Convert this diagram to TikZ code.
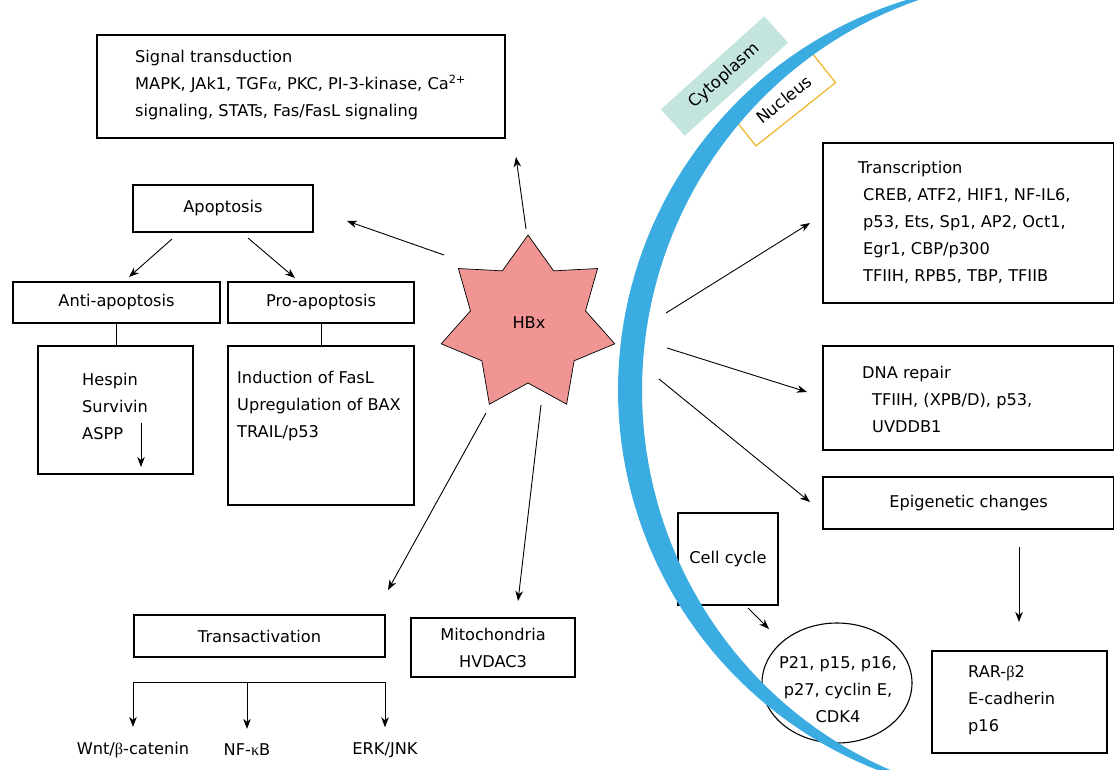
\RequirePackage{fix-cm}
\documentclass[tikz,border=0pt]{standalone}
\usepackage{fontspec}
\setmainfont{DejaVu Sans}
\newfontfamily\grk{Liberation Serif}
\usetikzlibrary{shapes.geometric,arrows.meta,positioning}
\definecolor{membrane}{RGB}{58,172,226}
\definecolor{cytofill}{RGB}{196,228,222}
\definecolor{nucline}{RGB}{240,180,40}
\definecolor{hbxfill}{RGB}{240,148,148}

\tikzset{
  box/.style={draw, line width=1.1pt, inner sep=0pt},
  lines/.style={align=left, inner sep=0pt},
  arr/.style={-{Stealth[length=10pt,width=7.5pt,inset=3pt]}, line width=0.9pt},
}

\begin{document}
\begin{tikzpicture}[x=1pt, y=-1pt, font=\fontsize{16.2}{27}\selectfont]
        \useasboundingbox (0,0) rectangle (1114,769);
        % cytoplasm side
        \node[box, minimum width=408, minimum height=103] (sig) at (301,86.5) {};
        \node[lines, anchor=west] (sigtxt) at (135,85) {Signal transduction\\MAPK, JAk1, TGF{\grk α}, PKC, PI-3-kinase, Ca\textsuperscript{2+}\\signaling, STATs, Fas/FasL signaling};
        \node[box, minimum width=180, minimum height=47] (apop) at (223,208.5) {Apoptosis};
        \node[box, minimum width=207, minimum height=41] (anti) at (116.5,302.5) {Anti-apoptosis};
        \node[box, minimum width=186, minimum height=41] (pro) at (321,302.5) {Pro-apoptosis};
        \node[box, minimum width=155, minimum height=128] (antilist) at (115.5,410) {};
        \node[lines, anchor=west] (antitxt) at (82,406) {Hespin\\Survivin\\ASPP};
        \node[box, minimum width=186, minimum height=159] (prolist) at (321,425.5) {};
        \node[lines, anchor=west] (protxt) at (237,406) {Induction of FasL\\Upregulation of BAX\\TRAIL/p53};
        \node[box, minimum width=251, minimum height=42] (trans) at (259.5,636) {Transactivation};
        \node[box, minimum width=164, minimum height=59, align=center] (mito) at (493,647.5) {Mitochondria\\HVDAC3};
        \node[inner sep=0pt] (wnt) at (133,750) {Wnt/{\grk β}-catenin};
        \node[inner sep=0pt] (nfkb) at (247,750) {NF-{\grk κ}B};
        \node[inner sep=0pt] (erk) at (385,750) {ERK/JNK};
        % nucleus side
        \node[box, minimum width=291, minimum height=160] (transc) at (968.5,223) {};
        \node[lines, anchor=west] (transctxt) at (858,222) {Transcription\\\hspace*{5pt}CREB, ATF2, HIF1, NF-IL6,\\\hspace*{5pt}p53, Ets, Sp1, AP2, Oct1,\\\hspace*{5pt}Egr1, CBP/p300\\\hspace*{5pt}TFIIH, RPB5, TBP, TFIIB};
        \node[box, minimum width=291, minimum height=104] (dna) at (968.5,398) {};
        \node[lines, anchor=west] (dnatxt) at (862,399) {DNA repair\\\hspace*{10pt}TFIIH, (XPB/D), p53,\\\hspace*{10pt}UVDDB1};
        \node[box, minimum width=291, minimum height=52] (epi) at (968.5,503) {Epigenetic changes};
        \node[box, minimum width=175, minimum height=102] (rar) at (1019.5,702) {};
        \node[lines, anchor=west] (rartxt) at (968,700) {RAR-{\grk β}2\\E-cadherin\\p16};
        \node[box, minimum width=100, minimum height=92] (cell) at (728,559) {Cell cycle};
        \node[box, ellipse, minimum width=150, minimum height=120] (cdk) at (837,683) {};
        \node[align=center, inner sep=0pt] (cdktxt) at (838,690) {P21, p15, p16,\\p27, cyclin E,\\CDK4};
        % arrow ends
        \coordinate (sigA) at (526,229);   \coordinate (sigB) at (516,157);
        \coordinate (apA) at (444,255);    \coordinate (apB) at (347,221);
        \coordinate (trA) at (486,413);    \coordinate (trB) at (388,590);
        \coordinate (miA) at (541,405);    \coordinate (miB) at (518,601);
        \coordinate (tcA) at (666,313);    \coordinate (tcB) at (810,223);
        \coordinate (dnA) at (667,348);    \coordinate (dnB) at (807,392);
        \coordinate (epA) at (659,379);    \coordinate (epB) at (810,502);
        \coordinate (anA) at (172,239);    \coordinate (anB) at (129,277);
        \coordinate (prA) at (248,238);    \coordinate (prB) at (295,278);
        \coordinate (asA) at (141,423);    \coordinate (asB) at (141,467);
        \coordinate (ccA) at (748,608);    \coordinate (ccB) at (769,629);
        \coordinate (raA) at (1019,547);   \coordinate (raB) at (1019,622);
        \coordinate (tbar) at (259,682);
        \foreach \a/\b in {sigA/sigB, apA/apB, trA/trB, miA/miB, tcA/tcB, dnA/dnB, epA/epB, anA/anB, prA/prB, asA/asB, ccA/ccB, raA/raB}
        \draw[arr] (\a) -- (\b);
        \draw[line width=0.9pt] (anti.south) -- (anti.south |- antilist.north);
        \draw[line width=0.9pt] (pro.south) -- (pro.south |- prolist.north);
        \draw[line width=0.9pt] (tbar -| wnt) -- (tbar -| erk);
        \foreach \n in {wnt, nfkb, erk}
        \draw[arr, shorten >=15pt] (tbar -| \n) -- (\n.north);
        % HBx star, 7 points
        \filldraw[fill=hbxfill, line width=0.7pt, shift={(528,324)}] (-90:89)
          \foreach \i [evaluate=\i as \r using {ifthenelse(mod(\i,2)==0,89,59)}] in {1,...,13} { -- ({-90+\i*360/14}:\r) } -- cycle;
        \node (hbx) at (529,323) {HBx};
        \node[fill=cytofill, rotate=42, minimum width=139, minimum height=35.5, inner sep=0pt, font=\fontsize{16.5}{20}\selectfont] (cyto) at (724.5,76) {Cytoplasm};
        \node[draw=nucline, line width=1.2pt, fill=white, rotate=38.5, minimum width=101.7, minimum height=37.8, inner sep=0pt, font=\fontsize{16.5}{20}\selectfont] (nuc) at (784,99.5) {Nucleus};
        % membrane
        \begin{scope}
        \clip (0,0) rectangle (1114,769);
        \fill[membrane] plot[domain=100:262, samples=90, variable=\a] ({1026+408*cos(\a)}, {390+408*sin(\a)})
          -- plot[domain=262:100, samples=90, variable=\a] ({1026+(408-24*sin((\a-100)*1.1111))*cos(\a)}, {390+(408-24*sin((\a-100)*1.1111))*sin(\a)}) -- cycle;
        \end{scope}
\end{tikzpicture}
\end{document}
